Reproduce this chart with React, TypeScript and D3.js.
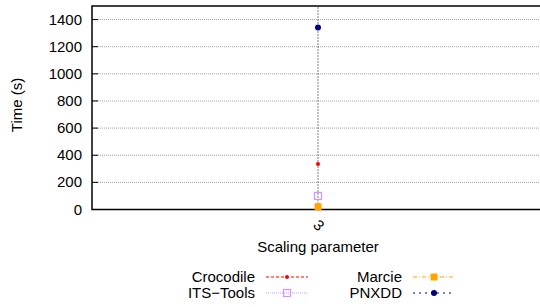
import React from "react";
import * as d3 from "d3";

const categories = [3];
const yTicks = [0, 200, 400, 600, 800, 1000, 1200, 1400];
const seriesNames = ["Crocodile", "ITS\u2212Tools", "Marcie", "PNXDD"];
const crocodile = [336];
const itsTools = [100];
const marcie = [20];
const pnxdd = [1342];

const W = 540, H = 307;
const left = 92, right = 544, top = 6, bottom = 209.5;
const font = "'Liberation Sans', Arial, sans-serif";

const styles: Record<string, { color: string; dash: string; marker: string }> = {
  Crocodile: { color: "#ff0000", dash: "3,2", marker: "smallcircle" },
  "ITS\u2212Tools": { color: "#cc99ff", dash: "1,1", marker: "opensquare" },
  Marcie: { color: "#ffa500", dash: "4,2,1,2", marker: "square" },
  PNXDD: { color: "#000080", dash: "2,4", marker: "circle" },
};

function Marker({ type, x, y, color }: { type: string; x: number; y: number; color: string }) {
  if (type === "circle") return <circle cx={x} cy={y} r={3} fill={color} />;
  if (type === "smallcircle") return <circle cx={x} cy={y} r={2} fill={color} />;
  if (type === "square") return <rect x={x - 3.5} y={y - 3.5} width={7} height={7} fill={color} />;
  return <rect x={x - 3.5} y={y - 3.5} width={7} height={7} fill="none" stroke={color} strokeWidth={1.3} />;
}

export default function App() {
  const y = d3.scaleLinear().domain([0, 1500]).range([bottom, top]);
  const x = d3.scaleLinear().domain([2, 4]).range([left, right]);
  const data: Record<string, number[]> = {
    Crocodile: crocodile,
    "ITS\u2212Tools": itsTools,
    Marcie: marcie,
    PNXDD: pnxdd,
  };
  const legendPos = [
    { name: seriesNames[0], tx: 255, by: 282 },
    { name: seriesNames[1], tx: 255, by: 298 },
    { name: seriesNames[2], tx: 402, by: 282 },
    { name: seriesNames[3], tx: 402, by: 298 },
  ];
  return (
    <svg width={W} height={H} style={{ position: "absolute", left: 0, top: 0 }} fontFamily={font}>
      <rect width={W} height={H} fill="#fff" />
      {yTicks.filter((t) => t > 0).map((t) => (
        <line key={t} x1={left} x2={right} y1={y(t)} y2={y(t)} stroke="#a0a0a0" strokeDasharray="1,1" strokeWidth={1} />
      ))}
      {categories.map((c) => (
        <line key={c} x1={x(c)} x2={x(c)} y1={bottom} y2={top} stroke="#000" strokeDasharray="1,2" strokeWidth={1} />
      ))}
      {yTicks.map((t) => (
        <g key={t}>
          <line x1={left} x2={left + 6} y1={y(t)} y2={y(t)} stroke="#000" />
          <text x={82} y={y(t) + 5} textAnchor="end" fontSize={15}>{t}</text>
        </g>
      ))}
      {categories.map((c) => (
        <text key={c} transform={`translate(${x(c) + 1},${225}) rotate(45)`} textAnchor="middle" dominantBaseline="central" fontSize={15}>{c}</text>
      ))}
      <rect x={left} y={top} width={right - left} height={bottom - top} fill="none" stroke="#000" strokeWidth={1.5} />
      {seriesNames.map((n) =>
        categories.map((c, i) => (
          <Marker key={n + c} type={styles[n].marker} x={x(c)} y={y(data[n][i])} color={styles[n].color} />
        ))
      )}
      <text transform={`translate(22,105) rotate(-90)`} textAnchor="middle" fontSize={15}>Time (s)</text>
      <text x={318} y={252} textAnchor="middle" fontSize={15}>Scaling parameter</text>
      {legendPos.map((l) => {
        const s = styles[l.name];
        const ly = l.by - 5;
        return (
          <g key={l.name}>
            <text x={l.tx} y={l.by} textAnchor="end" fontSize={15}>{l.name}</text>
            <line x1={l.tx + 11} x2={l.tx + 53} y1={ly} y2={ly} stroke={s.color} strokeDasharray={s.dash} strokeWidth={1} />
            <Marker type={s.marker} x={l.tx + 32} y={ly} color={s.color} />
          </g>
        );
      })}
    </svg>
  );
}
